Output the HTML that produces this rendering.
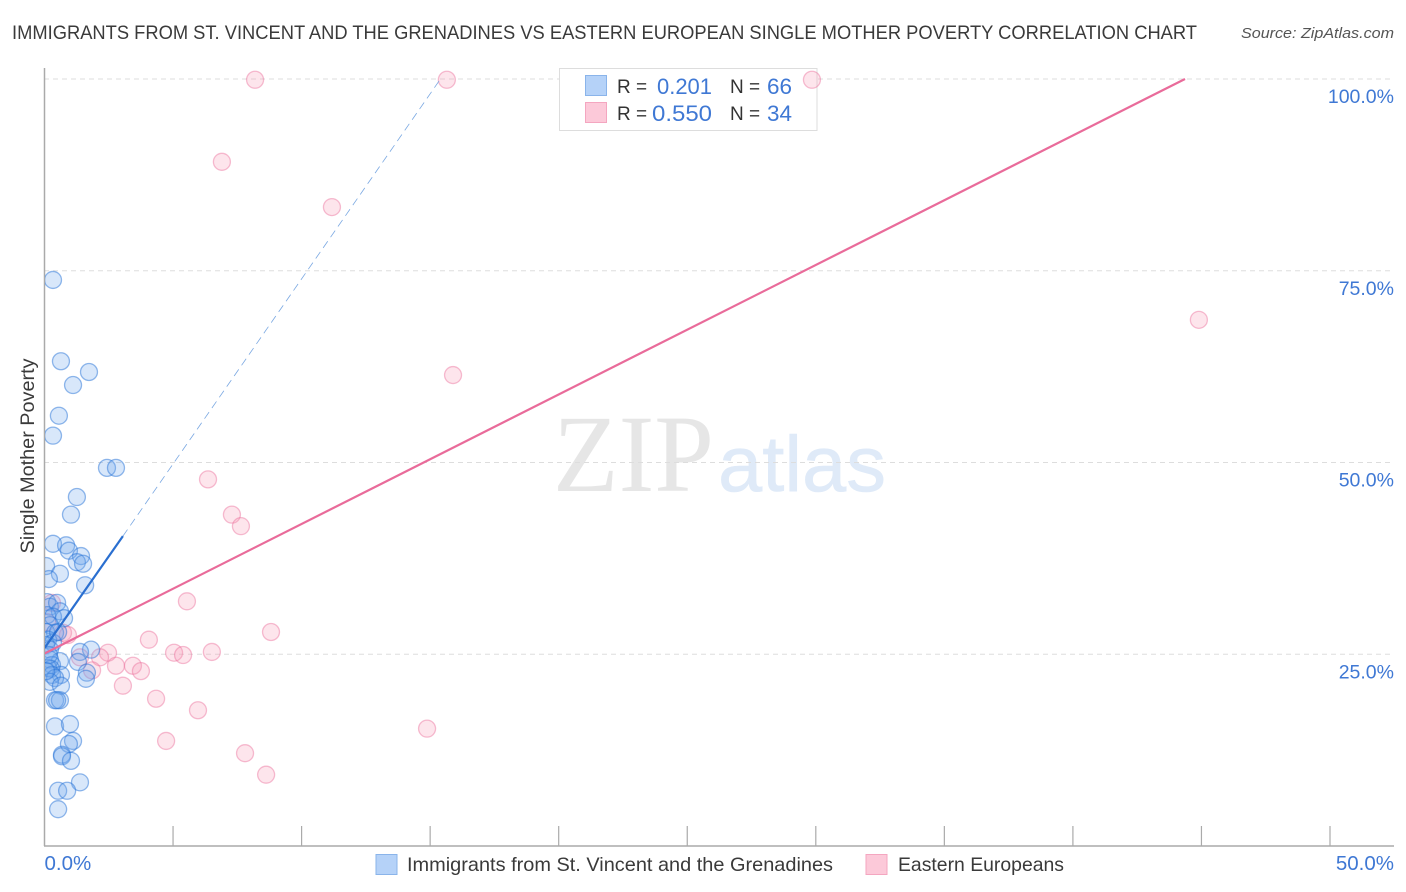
<!DOCTYPE html>
<html lang="en">
<head>
<meta charset="utf-8">
<title>Single Mother Poverty Correlation Chart</title>
<style>
html,body{margin:0;padding:0;background:#fff}
svg{display:block;font-family:"Liberation Sans",sans-serif}
</style>
</head>
<body>
<svg id="chart" width="1406" height="892" viewBox="0 0 1406 892" xmlns="http://www.w3.org/2000/svg">
  <defs>
    <clipPath id="plot-clip"><rect x="45" y="0" width="1361" height="846"/></clipPath>
  </defs>
  <text x="12" y="39" font-size="19.5" fill="#3a3a3a" textLength="1185" lengthAdjust="spacingAndGlyphs">IMMIGRANTS FROM ST. VINCENT AND THE GRENADINES VS EASTERN EUROPEAN SINGLE MOTHER POVERTY CORRELATION CHART</text>
  <text x="1241" y="38" font-size="15" font-style="italic" fill="#555" textLength="153" lengthAdjust="spacingAndGlyphs">Source: ZipAtlas.com</text>

  <g>
    <text x="553" y="491" font-family="'Liberation Serif',serif" font-size="110" fill="#e6e6e6" textLength="161" lengthAdjust="spacingAndGlyphs">ZIP</text>
    <text x="718" y="491" font-size="79" fill="#dfeaf8" stroke="#dfeaf8" stroke-width="0.6" textLength="168" lengthAdjust="spacingAndGlyphs">atlas</text>
  </g>

  <g id="grid"></g>
  <g id="ticks"></g>
  <line x1="44.5" y1="68" x2="44.5" y2="846" stroke="#aaa" stroke-width="1.5"/>
  <line x1="44" y1="846" x2="1394" y2="846" stroke="#aaa" stroke-width="1.5"/>

  <rect x="559.5" y="68.5" width="257.5" height="62" fill="#fff" stroke="#ddd" stroke-width="1"/>

  <g clip-path="url(#plot-clip)">
    <g id="pink-points"></g>
    <g id="blue-points"></g>
    <g id="trend-lines"></g>
  </g>

  <text transform="translate(34 456) rotate(-90)" text-anchor="middle" font-size="19.5" fill="#3a3a3a" textLength="195" lengthAdjust="spacingAndGlyphs">Single Mother Poverty</text>
  <g id="y-labels"></g>
  <g id="x-labels"></g>

  <g>
    <rect x="585.5" y="75.5" width="21" height="20" fill="#b5d2f8" stroke="#8ab4ea"/>
    <rect x="585.5" y="102.5" width="21" height="20" fill="#fcc9d9" stroke="#f4a6c0"/>
    <text x="617" y="93" font-size="19" fill="#333">R =</text>
    <text x="657" y="94" font-size="22" fill="#3f78d4" textLength="55" lengthAdjust="spacingAndGlyphs">0.201</text>
    <text x="730" y="93" font-size="19" fill="#333">N =</text>
    <text x="767" y="94" font-size="22" fill="#3f78d4" textLength="25" lengthAdjust="spacingAndGlyphs">66</text>
    <text x="617" y="120" font-size="19" fill="#333">R =</text>
    <text x="652" y="121" font-size="22" fill="#3f78d4" textLength="60" lengthAdjust="spacingAndGlyphs">0.550</text>
    <text x="730" y="120" font-size="19" fill="#333">N =</text>
    <text x="767" y="121" font-size="22" fill="#3f78d4" textLength="25" lengthAdjust="spacingAndGlyphs">34</text>
  </g>

  <g>
    <rect x="376" y="854.5" width="21" height="20" fill="#b5d2f8" stroke="#8ab4ea"/>
    <text x="407" y="871" font-size="19.5" fill="#3a3a3a" textLength="426" lengthAdjust="spacingAndGlyphs">Immigrants from St. Vincent and the Grenadines</text>
    <rect x="866" y="854.5" width="21" height="20" fill="#fcc9d9" stroke="#f4a6c0"/>
    <text x="898" y="871" font-size="19.5" fill="#3a3a3a" textLength="166" lengthAdjust="spacingAndGlyphs">Eastern Europeans</text>
  </g>
</svg>
<script>
var yTickValues = [100, 75, 50, 25];
var yTickLabels = ['100.0%', '75.0%', '50.0%', '25.0%'];
var xTickValues = [0, 5, 10, 15, 20, 25, 30, 35, 40, 45, 50];
var xAxisValues = [0, 50];
var xAxisLabels = ['0.0%', '50.0%'];

var blueX = [0.33,0.64,1.73,1.11,0.56,0.33,2.43,2.78,1.26,1.03,0.33,0.84,0.95,1.42,1.26,1.5,0.06,0.6,0.17,1.58,
  0.1,0.21,0.49,0.6,0.1,0.33,0.76,0.21,0.06,0.41,0.14,0.33,0.06,0.21,0.53,
  1.81,1.38,1.3,1.65,1.61,
  0.6,0.21,0.29,0.14,0.25,0.64,0.29,0.41,0.21,0.64,
  0.41,0.6,0.49,
  0.41,0.99,1.11,0.95,0.68,0.68,1.03,1.38,0.53,0.88,0.53,
  0.17,0.06];
var blueY = [73.8,63.2,61.8,60.1,56.1,53.5,49.3,49.3,45.5,43.2,39.4,39.2,38.5,37.8,37,36.8,36.5,35.5,34.8,34,
  31.8,31.2,31.7,30.6,30.1,29.9,29.7,28.8,27.9,27.8,26.9,26.5,26.2,25.6,27.9,
  25.6,25.3,24,22.6,21.8,
  24.1,24.3,23.6,23.2,23.1,22.3,22.3,21.9,21.4,20.9,
  19,19,19,
  15.6,15.9,13.7,13.3,11.9,11.7,11.1,8.3,7.2,7.2,4.8,
  24.9,22.8];

var pinkX = [8.19,15.65,29.85,6.9,11.18,44.9,15.89,6.36,7.29,7.64,5.54,8.81,4.06,5.04,5.39,6.51,2.47,2.16,1.38,2.78,3.44,3.75,1.85,3.05,4.34,5.97,14.88,4.73,7.8,8.62,0.29,0.72,0.91,0.1];
var pinkY = [99.9,99.9,99.9,89.2,83.3,68.6,61.4,47.8,43.2,41.7,31.9,27.9,26.9,25.2,24.9,25.3,25.2,24.6,24.6,23.5,23.5,22.8,22.9,20.9,19.2,17.7,15.3,13.7,12.1,9.3,31.7,27.8,27.5,29.2];

var blueTrendX = [0, 3.05];
var blueTrendY = [25.8, 40.4];
var blueDashX = [3.05, 15.4];
var blueDashY = [40.4, 100];
var pinkTrendX = [0, 44.36];
var pinkTrendY = [25.1, 100];

function xScale(v) { return 44.5 + v * 25.71; }
function yScale(v) { return 846 - v * 7.67; }

var NS = 'http://www.w3.org/2000/svg';
function make(tag, attrs, parent) {
  var el = document.createElementNS(NS, tag);
  for (var k in attrs) { el.setAttribute(k, attrs[k]); }
  parent.appendChild(el);
  return el;
}

var gridGroup = document.getElementById('grid');
yTickValues.forEach(function (v) {
  var el = make('line', {x1: 44, x2: 1394, y1: yScale(v), y2: yScale(v), stroke: '#ddd', 'stroke-width': 1, 'stroke-dasharray': '5 4'}, gridGroup);
  
  
});

var tickGroup = document.getElementById('ticks');
xTickValues.forEach(function (v) {
  if (v === 0) { return; }
  var el = make('line', {x1: xScale(v), x2: xScale(v), y1: 826, y2: 846, stroke: '#aaa', 'stroke-width': 1.2}, tickGroup);
  
  
});

var yLabelGroup = document.getElementById('y-labels');
yTickValues.forEach(function (v, i) {
  var el = make('text', {x: 1394, y: yScale(v) + 24, 'text-anchor': 'end', 'font-size': 19.5, fill: '#3f78d4'}, yLabelGroup);
  el.textContent = yTickLabels[i];
  
  
});

var xLabelGroup = document.getElementById('x-labels');
xAxisValues.forEach(function (v, i) {
  var attrs = {x: i === 0 ? xScale(v) : 1394, y: 870, 'font-size': 20.5, fill: '#3f78d4'};
  if (i === 1) { attrs['text-anchor'] = 'end'; }
  var el = make('text', attrs, xLabelGroup);
  el.textContent = xAxisLabels[i];
  
  
});

var pinkGroup = document.getElementById('pink-points');
pinkX.forEach(function (v, i) {
  var el = make('circle', {cx: xScale(v), cy: yScale(pinkY[i]), r: 8.5, fill: 'rgba(246,150,180,0.25)', stroke: 'rgba(236,110,155,0.45)', 'stroke-width': 1.3}, pinkGroup);
  
  
});

var blueGroup = document.getElementById('blue-points');
blueX.forEach(function (v, i) {
  var el = make('circle', {cx: xScale(v), cy: yScale(blueY[i]), r: 8.5, fill: 'rgba(110,165,235,0.27)', stroke: 'rgba(40,115,215,0.5)', 'stroke-width': 1.3}, blueGroup);
  
  
});

var trendGroup = document.getElementById('trend-lines');
var blueDash = make('line', {x1: xScale(blueDashX[0]), y1: yScale(blueDashY[0]), x2: xScale(blueDashX[1]), y2: yScale(blueDashY[1]), stroke: '#7aa8e2', 'stroke-width': 0.8, 'stroke-dasharray': '8 5'}, trendGroup);


var blueSolid = make('line', {x1: xScale(blueTrendX[0]), y1: yScale(blueTrendY[0]), x2: xScale(blueTrendX[1]), y2: yScale(blueTrendY[1]), stroke: '#2a6fd0', 'stroke-width': 2.2}, trendGroup);


var pinkSolid = make('line', {x1: xScale(pinkTrendX[0]), y1: yScale(pinkTrendY[0]), x2: xScale(pinkTrendX[1]), y2: yScale(pinkTrendY[1]), stroke: '#e96b9a', 'stroke-width': 2.2}, trendGroup);


</script>
</body>
</html>
